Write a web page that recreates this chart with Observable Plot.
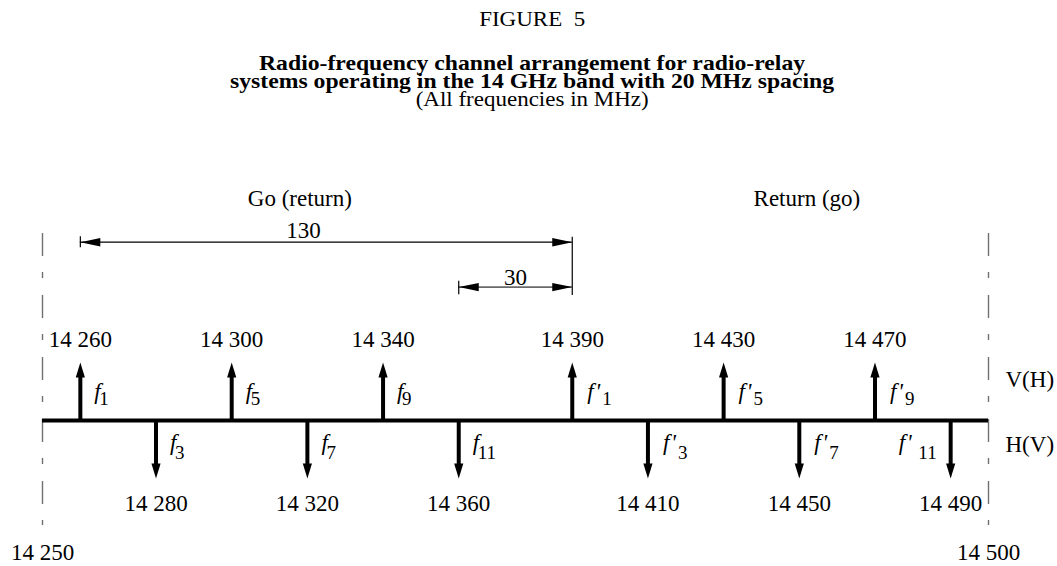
<!DOCTYPE html>
<html><head><meta charset="utf-8">
<script src="https://cdn.jsdelivr.net/npm/d3@7"></script>
<script src="https://cdn.jsdelivr.net/npm/@observablehq/plot@0.6"></script>
<style>
html,body{margin:0;padding:0;background:#fff;overflow:hidden;}
#head{position:relative;width:1057px;height:110px;font-family:"Liberation Serif",serif;color:#000;}
#head div{position:absolute;left:4px;width:1057px;text-align:center;font-size:21px;line-height:21px;white-space:nowrap;transform:scaleX(1.095);transform-origin:532px 0;}
#head div.b{font-weight:bold;transform:scaleX(1.128);}
#chart svg{display:block;}
</style></head>
<body>
<div id="head">
  <div style="top:8.7px">FIGURE&nbsp; 5</div>
  <div class="b" style="top:53.3px">Radio-frequency channel arrangement for radio-relay</div>
  <div class="b" style="top:71.3px">systems operating in the 14 GHz band with 20 MHz spacing</div>
  <div style="top:89.4px">(All frequencies in MHz)</div>
</div>
<div id="chart"></div>
<script>
// ---- data (MHz) ----
const upFreqs = [14260, 14300, 14340, 14390, 14430, 14470];
const upSubs = ["1", "5", "9", "1", "5", "9"];
const upPrimed = [false, false, false, true, true, true];
const downFreqs = [14280, 14320, 14360, 14410, 14450, 14490];
const downSubs = ["3", "7", "11", "3", "7", "11"];
const downPrimed = [false, false, false, true, true, true];
const bandEdges = [14250, 14500];
const dimFrom = [14260, 14360];
const dimTo = [14390, 14390];
const dimText = ["130", "30"];
const dimTextX = [14319, 14375];
const headerText = ["Go (return)", "Return (go)"];
const headerX = [14318, 14452];
const polText = ["V(H)", "H(V)"];

// ---- layout (vertical "levels": 0 = channel axis, +1 up-arrow tip, -1 down-arrow tip) ----
const L = {
  edgeTop: 3.224, edgeBottom: -1.81,
  upLabel: 1.259, downLabel: -1.56, edgeLabel: -2.405,
  fUp: 0.379, subUp: 0.276, fDown: -0.5, subDown: -0.672,
  pol: [0.574, -0.547],
  header: 3.707,
  dimLine: [3.074, 2.30], dimTextY: [3.147, 2.345],
  dimTick: [[3.17, 2.98], [2.40, 2.17]], dimEnd: [3.16, 2.155]
};
const FS = 23, SFS = 19;
const bl = fs => -0.32 * fs; // shift so the given level is the text baseline

const fmt = v => `${Math.floor(v / 1000)} ${String(v % 1000).padStart(3, "0")}`;

const upHead = {draw(c) { c.moveTo(0, 0); c.lineTo(4.6, 15); c.lineTo(-4.6, 15); c.closePath(); }};
const downHead = {draw(c) { c.moveTo(0, 0); c.lineTo(4.6, -15); c.lineTo(-4.6, -15); c.closePath(); }};
const leftHead = {draw(c) { c.moveTo(0, 0); c.lineTo(20, -4.2); c.lineTo(20, 4.2); c.closePath(); }};
const rightHead = {draw(c) { c.moveTo(0, 0); c.lineTo(-20, -4.2); c.lineTo(-20, 4.2); c.closePath(); }};

const labels = [
  ...upFreqs.map((x, i) => ({x, sub: upSubs[i], primed: upPrimed[i], up: true})),
  ...downFreqs.map((x, i) => ({x, sub: downSubs[i], primed: downPrimed[i], up: false}))
].map(d => ({...d, left: d.x > 14480}));

function fMarks(data, yMain, ySub) {
  const right = data.filter(d => !d.left), left = data.filter(d => d.left);
  const it = {fontStyle: "italic", fontSize: FS, textAnchor: "start", dy: bl(FS)};
  const sb = {fontSize: SFS, dy: bl(SFS)};
  return [
    Plot.text(right.filter(d => !d.primed), {x: "x", y: yMain, text: () => "f", dx: 14, ...it}),
    Plot.text(right.filter(d => !d.primed), {x: "x", y: ySub, text: "sub", textAnchor: "start", dx: 19, ...sb}),
    Plot.text(right.filter(d => d.primed), {x: "x", y: yMain, text: () => "f", dx: 15, ...it}),
    Plot.text(right.filter(d => d.primed), {x: "x", y: yMain, text: () => "'", dx: 23, ...it}),
    Plot.text(right.filter(d => d.primed), {x: "x", y: ySub, text: "sub", textAnchor: "start", dx: 30, ...sb}),
    Plot.text(left, {x: "x", y: yMain, text: () => "f", dx: -52, ...it}),
    Plot.text(left, {x: "x", y: yMain, text: () => "'", dx: -44, ...it}),
    Plot.text(left, {x: "x", y: ySub, text: "sub", textAnchor: "end", dx: -14, ...sb})
  ];
}

const dims = dimFrom.map((f, i) => ({from: f, to: dimTo[i], text: dimText[i], tx: dimTextX[i], i}));

const chart = Plot.plot({
  width: 1057,
  height: 456,
  margin: 0,
  x: {domain: [14250, 14500], range: [42, 988], axis: null},
  y: {domain: [-4, 4], range: [542, 78], axis: null},
  style: {fontFamily: "'Liberation Serif', serif", fontSize: FS + "px", color: "#000", background: "#fff"},
  marks: [
    // band edges (dash-dot)
    Plot.ruleX(bandEdges, {y1: L.edgeTop, y2: L.edgeBottom, stroke: "#707070", strokeWidth: 1.4, strokeDasharray: "23,16,6,17"}),
    // channel axis
    Plot.ruleY([0], {x1: bandEdges[0], x2: bandEdges[1], strokeWidth: 4, stroke: "#000"}),
    // arrows
    Plot.ruleX(upFreqs, {y1: 0, y2: 0.8, strokeWidth: 4, stroke: "#000"}),
    Plot.ruleX(downFreqs, {y1: 0, y2: -0.8, strokeWidth: 4, stroke: "#000"}),
    Plot.dot(upFreqs, {x: d => d, y: 1, symbol: upHead, r: 5, fill: "#000", stroke: "none"}),
    Plot.dot(downFreqs, {x: d => d, y: -1, symbol: downHead, r: 5, fill: "#000", stroke: "none"}),
    // frequency labels
    Plot.text(upFreqs, {x: d => d, y: L.upLabel, text: fmt, dy: bl(FS)}),
    Plot.text(downFreqs, {x: d => d, y: L.downLabel, text: fmt, dy: bl(FS)}),
    Plot.text(bandEdges, {x: d => d, y: L.edgeLabel, text: fmt, dy: bl(FS)}),
    // channel names
    ...fMarks(labels.filter(d => d.up), L.fUp, L.subUp),
    ...fMarks(labels.filter(d => !d.up), L.fDown, L.subDown),
    // polarisation
    Plot.text(polText, {x: bandEdges[1], y: (d, i) => L.pol[i], text: d => d, textAnchor: "start", dx: 17, dy: bl(FS)}),
    // go / return headings
    Plot.text(headerText, {x: (d, i) => headerX[i], y: L.header, text: d => d, dy: bl(FS)}),
    // dimension lines
    Plot.ruleY(dims, {x1: "from", x2: "to", y: d => L.dimLine[d.i], stroke: d => d.i === 0 ? "#000" : "#6a6a6a", strokeWidth: d => d.i === 0 ? 1.2 : 1.6}),
    Plot.ruleX(dims, {x: "from", y1: d => L.dimTick[d.i][0], y2: d => L.dimTick[d.i][1], stroke: "#000", strokeWidth: 1.2}),
    Plot.ruleX([dimTo[0]], {y1: L.dimEnd[0], y2: L.dimEnd[1], stroke: "#000", strokeWidth: 1.2}),
    Plot.dot(dims, {x: "from", y: d => L.dimLine[d.i], symbol: leftHead, r: 5, fill: "#000", stroke: "none"}),
    Plot.dot(dims, {x: "to", y: d => L.dimLine[d.i], symbol: rightHead, r: 5, fill: "#000", stroke: "none"}),
    Plot.text(dims, {x: "tx", y: d => L.dimTextY[d.i], text: "text", dy: bl(FS)})
  ]
});
document.getElementById("chart").appendChild(chart);
</script>
</body></html>
